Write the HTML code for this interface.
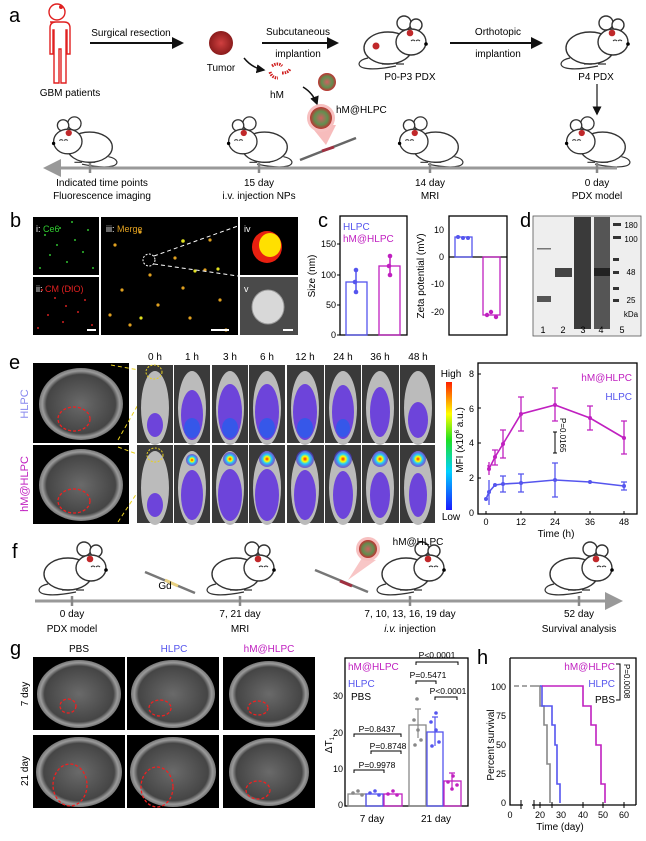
<!DOCTYPE html>
<html><head><meta charset="utf-8"><style>
html,body{margin:0;padding:0;background:#fff}
svg{display:block}
text{font-family:"Liberation Sans",Arial,sans-serif}
</style></head><body>
<svg width="646" height="841" viewBox="0 0 646 841" xmlns="http://www.w3.org/2000/svg">
<defs>
<symbol id="mouse" viewBox="0 0 80 56" overflow="visible">
<path d="M12 44 C2 46 0 52 8 54 C16 56 30 54 40 52" fill="none" stroke="#333" stroke-width="1.2"/>
<ellipse cx="32" cy="34" rx="24" ry="16" fill="#fff" stroke="#333" stroke-width="1.4"/>
<circle cx="48" cy="9" r="7" fill="#fff" stroke="#333" stroke-width="1.4"/>
<circle cx="60" cy="11" r="6" fill="#fff" stroke="#333" stroke-width="1.4"/>
<ellipse cx="55" cy="28" rx="15" ry="13" fill="#fff" stroke="#333" stroke-width="1.4"/>
<circle cx="70" cy="30" r="1.8" fill="#000"/>
<path d="M55 27 q2 -2 4 0 M60 27 q2 -2 4 0" fill="none" stroke="#333" stroke-width="1"/>
<path d="M26 50 h8 M40 50 h8" stroke="#333" stroke-width="1.2"/>
<circle cx="54" cy="19" r="3.3" fill="#c0282a"/>
</symbol>
<linearGradient id="cb" x1="0" y1="1" x2="0" y2="0">
<stop offset="0" stop-color="#1a1aff"/><stop offset="0.3" stop-color="#00d0ff"/><stop offset="0.55" stop-color="#20e020"/><stop offset="0.75" stop-color="#ffff00"/><stop offset="1" stop-color="#ff2000"/>
</linearGradient>
<radialGradient id="tum"><stop offset="0" stop-color="#d04040"/><stop offset="1" stop-color="#8a1c1c"/></radialGradient>
<radialGradient id="np"><stop offset="0" stop-color="#d06060"/><stop offset="0.6" stop-color="#609050"/><stop offset="1" stop-color="#c03030"/></radialGradient>
<radialGradient id="mri"><stop offset="0" stop-color="#6a6a6a"/><stop offset="0.82" stop-color="#454545"/><stop offset="0.92" stop-color="#9a9a9a"/><stop offset="1" stop-color="#777"/></radialGradient>
<radialGradient id="hot"><stop offset="0" stop-color="#ff2000"/><stop offset="0.3" stop-color="#ffff00"/><stop offset="0.55" stop-color="#20d0ff"/><stop offset="1" stop-color="#5020d0" stop-opacity="0.6"/></radialGradient>
<marker id="ah" markerWidth="6" markerHeight="6" refX="5" refY="3" orient="auto"><path d="M0 0 L6 3 L0 6z" fill="#111"/></marker>
<marker id="ahg" markerWidth="6" markerHeight="6" refX="5" refY="3" orient="auto"><path d="M0 0 L6 3 L0 6z" fill="#999"/></marker>
</defs>

<!-- ===== a ===== -->
<text x="9" y="22" font-size="20">a</text>
<g fill="none" stroke="#e02020" stroke-width="1.4">
<circle cx="57" cy="12" r="8"/>
<path d="M50 22 h14 q6 0 6 6 v26 h-3 v-24 h-1 v53 h-5 v-34 h-2 v34 h-5 v-53 h-1 v24 h-3 v-26 q0 -6 6 -6z"/>
</g>
<circle cx="61" cy="7" r="2" fill="#e02020"/>
<text x="70" y="96" font-size="10" text-anchor="middle">GBM patients</text>
<text x="131" y="36" font-size="10" text-anchor="middle">Surgical resection</text>
<line x1="90" y1="43" x2="182" y2="43" stroke="#111" stroke-width="2" marker-end="url(#ah)"/>
<circle cx="221" cy="43" r="12" fill="url(#tum)"/>
<text x="221" y="71" font-size="10" text-anchor="middle">Tumor</text>
<path d="M244 58 q8 10 20 12" fill="none" stroke="#111" stroke-width="1.5" marker-end="url(#ah)"/>
<g stroke="#d02020" stroke-width="3" fill="none" stroke-dasharray="1.5 1"><path d="M272 66 q6 -4 10 0"/><path d="M270 72 q2 6 8 6"/><path d="M282 73 q6 0 8 -4"/></g>
<text x="277" y="98" font-size="10" text-anchor="middle">hM</text>
<circle cx="327" cy="82" r="9" fill="url(#np)"/>
<path d="M303 87 q10 6 14 17" fill="none" stroke="#111" stroke-width="1.5" marker-end="url(#ah)"/>
<text x="298" y="35" font-size="10" text-anchor="middle">Subcutaneous</text>
<line x1="262" y1="43" x2="337" y2="43" stroke="#111" stroke-width="2" marker-end="url(#ah)"/>
<text x="298" y="57" font-size="10" text-anchor="middle">implantion</text>
<use href="#mouse" x="356" y="14" width="80" height="56"/>
<circle cx="376" cy="46" r="3.5" fill="#c0282a"/>
<text x="410" y="80" font-size="10" text-anchor="middle">P0-P3 PDX</text>
<text x="498" y="35" font-size="10" text-anchor="middle">Orthotopic</text>
<line x1="450" y1="43" x2="541" y2="43" stroke="#111" stroke-width="2" marker-end="url(#ah)"/>
<text x="498" y="57" font-size="10" text-anchor="middle">implantion</text>
<use href="#mouse" x="558" y="14" width="80" height="56"/>
<text x="596" y="80" font-size="10" text-anchor="middle">P4 PDX</text>
<line x1="597" y1="84" x2="597" y2="114" stroke="#444" stroke-width="1.5" marker-end="url(#ah)"/>
<text x="336" y="113" font-size="10">hM@HLPC</text>
<path d="M310 125 L326 145 L336 125z" fill="#f4a0a0" opacity="0.7"/>
<circle cx="321" cy="118" r="14" fill="#f7c0c0"/><circle cx="321" cy="118" r="11" fill="url(#np)"/>
<line x1="300" y1="160" x2="356" y2="138" stroke="#666" stroke-width="2.5"/>
<line x1="322" y1="151" x2="334" y2="147" stroke="#a03040" stroke-width="3"/>
<g transform="translate(120,115) scale(-1,1)"><use href="#mouse" x="0" y="0" width="76" height="53"/></g>
<g transform="translate(295,115) scale(-1,1)"><use href="#mouse" x="0" y="0" width="76" height="53"/></g>
<g transform="translate(466,115) scale(-1,1)"><use href="#mouse" x="0" y="0" width="76" height="53"/></g>
<g transform="translate(633,115) scale(-1,1)"><use href="#mouse" x="0" y="0" width="76" height="53"/></g>
<line x1="617" y1="168" x2="46" y2="168" stroke="#999" stroke-width="3" marker-end="url(#ahg)"/>
<g stroke="#888" stroke-width="2.5"><line x1="90" y1="163" x2="90" y2="173"/><line x1="259" y1="163" x2="259" y2="173"/><line x1="430" y1="163" x2="430" y2="173"/><line x1="597" y1="163" x2="597" y2="173"/></g>
<g font-size="10" text-anchor="middle">
<text x="102" y="186">Indicated time points</text><text x="102" y="199">Fluorescence imaging</text>
<text x="259" y="186">15 day</text><text x="259" y="199">i.v. injection NPs</text>
<text x="430" y="186">14 day</text><text x="430" y="199">MRI</text>
<text x="597" y="186">0 day</text><text x="597" y="199">PDX model</text>
</g>

<!-- ===== b ===== -->
<text x="10" y="227" font-size="20">b</text>
<rect x="33" y="217" width="66" height="58" fill="#000"/>
<rect x="33" y="277" width="66" height="58" fill="#000"/>
<rect x="101" y="217" width="137" height="118" fill="#000"/>
<rect x="240" y="217" width="58" height="58" fill="#000"/>
<rect x="240" y="277" width="58" height="58" fill="#4a4a4a"/>
<g fill="#30c030"><circle cx="45" cy="235" r="1"/><circle cx="60" cy="228" r="1"/><circle cx="75" cy="240" r="1"/><circle cx="88" cy="230" r="1"/><circle cx="50" cy="255" r="1"/><circle cx="67" cy="262" r="1"/><circle cx="83" cy="252" r="1"/><circle cx="93" cy="268" r="1"/><circle cx="40" cy="268" r="1"/><circle cx="57" cy="245" r="1"/><circle cx="72" cy="222" r="1"/></g>
<g fill="#d02020"><circle cx="42" cy="290" r="1"/><circle cx="55" cy="298" r="1"/><circle cx="70" cy="288" r="1"/><circle cx="85" cy="300" r="1"/><circle cx="48" cy="315" r="1"/><circle cx="63" cy="322" r="1"/><circle cx="78" cy="312" r="1"/><circle cx="92" cy="325" r="1"/><circle cx="38" cy="328" r="1"/><circle cx="66" cy="306" r="1"/></g>
<g fill="#e0a020"><circle cx="115" cy="245" r="1.6"/><circle cx="140" cy="232" r="1.6"/><circle cx="175" cy="258" r="1.6"/><circle cx="205" cy="270" r="1.6"/><circle cx="122" cy="290" r="1.6"/><circle cx="158" cy="305" r="1.6"/><circle cx="190" cy="318" r="1.6"/><circle cx="220" cy="300" r="1.6"/><circle cx="130" cy="325" r="1.6"/><circle cx="210" cy="240" r="1.6"/><circle cx="150" cy="275" r="1.6"/><circle cx="226" cy="330" r="1.6"/><circle cx="183" cy="288" r="1.6"/><circle cx="110" cy="315" r="1.6"/></g>
<g fill="#e0e020"><circle cx="183" cy="241" r="1.8"/><circle cx="195" cy="271" r="1.6"/><circle cx="218" cy="269" r="1.6"/><circle cx="141" cy="318" r="1.6"/></g>
<circle cx="149" cy="260" r="6" fill="none" stroke="#fff" stroke-dasharray="2 1.5"/>
<path d="M154 256 L238 226 M154 264 L238 276" stroke="#fff" stroke-dasharray="4 3"/>
<ellipse cx="267" cy="247" rx="15" ry="16" fill="#e82010"/><ellipse cx="270" cy="245" rx="11" ry="12" fill="#ffe000"/>
<ellipse cx="268" cy="307" rx="16" ry="17" fill="#d8d8d8" stroke="#999"/>
<line x1="87" y1="330" x2="96" y2="330" stroke="#fff" stroke-width="2"/><line x1="211" y1="330" x2="229" y2="330" stroke="#fff" stroke-width="2"/><line x1="283" y1="330" x2="293" y2="330" stroke="#fff" stroke-width="2"/>
<text x="36" y="232" font-size="9" fill="#fff">i: <tspan fill="#30d030">Ce6</tspan></text>
<text x="36" y="292" font-size="9" fill="#fff">ii: <tspan fill="#e02020">CM (DIO)</tspan></text>
<text x="106" y="232" font-size="9" fill="#fff">iii: <tspan fill="#e0a020">Merge</tspan></text>
<text x="244" y="232" font-size="9" fill="#fff">iv</text><text x="244" y="292" font-size="9" fill="#fff">v</text>

<!-- ===== c ===== -->
<text x="318" y="227" font-size="20">c</text>
<rect x="340" y="216" width="67" height="119" fill="none" stroke="#000" stroke-width="1.3"/>
<g font-size="9" text-anchor="end"><text x="336" y="338">0</text><text x="336" y="308">50</text><text x="336" y="278">100</text><text x="336" y="247">150</text></g>
<g stroke="#000"><line x1="337" y1="335" x2="340" y2="335"/><line x1="337" y1="305" x2="340" y2="305"/><line x1="337" y1="275" x2="340" y2="275"/><line x1="337" y1="244" x2="340" y2="244"/></g>
<text transform="translate(315,276) rotate(-90)" font-size="10" text-anchor="middle">Size (nm)</text>
<rect x="346" y="282" width="21" height="53" fill="none" stroke="#5555ee" stroke-width="1.3"/>
<rect x="379" y="266" width="21" height="69" fill="none" stroke="#c020c0" stroke-width="1.3"/>
<line x1="356" y1="270" x2="356" y2="293" stroke="#5555ee" stroke-width="1.5"/><circle cx="356" cy="270" r="2.3" fill="#5555ee"/><circle cx="355" cy="282" r="2.3" fill="#5555ee"/><circle cx="356" cy="292" r="2.3" fill="#5555ee"/>
<line x1="390" y1="255" x2="390" y2="276" stroke="#c020c0" stroke-width="1.5"/><circle cx="390" cy="256" r="2.3" fill="#c020c0"/><circle cx="389" cy="266" r="2.3" fill="#c020c0"/><circle cx="390" cy="275" r="2.3" fill="#c020c0"/>
<text x="343" y="230" font-size="10" fill="#5555ee">HLPC</text>
<text x="343" y="242" font-size="10" fill="#c020c0">hM@HLPC</text>
<rect x="449" y="216" width="58" height="119" fill="none" stroke="#000" stroke-width="1.3"/>
<line x1="449" y1="257" x2="507" y2="257" stroke="#000" stroke-width="1.2"/>
<g font-size="9" text-anchor="end"><text x="444" y="233">10</text><text x="444" y="260">0</text><text x="444" y="287">-10</text><text x="444" y="315">-20</text></g>
<text transform="translate(424,276) rotate(-90)" font-size="10" text-anchor="middle">Zeta potential (mV)</text>
<rect x="455" y="237" width="17" height="20" fill="none" stroke="#5555ee" stroke-width="1.3"/>
<circle cx="458" cy="237" r="2" fill="#5555ee"/><circle cx="463" cy="238" r="2" fill="#5555ee"/><circle cx="468" cy="238" r="2" fill="#5555ee"/>
<rect x="483" y="257" width="17" height="58" fill="none" stroke="#c020c0" stroke-width="1.3"/>
<circle cx="487" cy="315" r="2.2" fill="#c020c0"/><circle cx="491" cy="312" r="2.2" fill="#c020c0"/><circle cx="496" cy="317" r="2.2" fill="#c020c0"/>

<!-- ===== d ===== -->
<text x="520" y="227" font-size="20">d</text>
<rect x="533" y="216" width="108" height="120" fill="#eee" stroke="#555" stroke-width="0.8"/>
<rect x="537" y="296" width="14" height="6" fill="#555"/><rect x="537" y="248" width="14" height="1.5" fill="#777"/>
<rect x="555" y="268" width="17" height="9" fill="#444"/>
<rect x="574" y="217" width="17" height="112" fill="#3a3a3a"/>
<rect x="594" y="217" width="16" height="112" fill="#555"/>
<rect x="594" y="268" width="16" height="8" fill="#222"/>
<g fill="#333"><rect x="613" y="223" width="8" height="3"/><rect x="613" y="236" width="8" height="3"/><rect x="613" y="258" width="6" height="3"/><rect x="613" y="271" width="6" height="3"/><rect x="613" y="287" width="6" height="3"/><rect x="613" y="299" width="6" height="3"/></g>
<g font-size="8" text-anchor="middle"><text x="631" y="228">180</text><text x="631" y="242">100</text><text x="631" y="275">48</text><text x="631" y="303">25</text><text x="631" y="317">kDa</text></g>
<g font-size="9" text-anchor="middle"><text x="543" y="333">1</text><text x="563" y="333">2</text><text x="583" y="333">3</text><text x="601" y="333">4</text><text x="622" y="333">5</text></g>

<!-- ===== e ===== -->
<text x="9" y="369" font-size="20">e</text>
<rect x="33" y="363" width="96" height="80" fill="#000"/><rect x="33" y="445" width="96" height="79" fill="#000"/>
<ellipse cx="81" cy="404" rx="42" ry="36" fill="url(#mri)"/><ellipse cx="81" cy="485" rx="42" ry="36" fill="url(#mri)"/>
<ellipse cx="74" cy="419" rx="16" ry="12" fill="none" stroke="#f02020" stroke-dasharray="3 2" stroke-width="1.3"/>
<ellipse cx="74" cy="501" rx="16" ry="12" fill="none" stroke="#f02020" stroke-dasharray="3 2" stroke-width="1.3"/>
<text transform="translate(28,404) rotate(-90)" font-size="11" fill="#8888ee" text-anchor="middle">HLPC</text>
<text transform="translate(28,484) rotate(-90)" font-size="11" fill="#c020c0" text-anchor="middle">hM@HLPC</text>
<path d="M111 365 L150 372 M118 440 L152 380 M118 447 L153 460 M118 522 L152 470" stroke="#e8d020" stroke-dasharray="4 3"/>
<g font-size="10" text-anchor="middle"><text x="155" y="360">0 h</text><text x="192" y="360">1 h</text><text x="230" y="360">3 h</text><text x="267" y="360">6 h</text><text x="305" y="360">12 h</text><text x="343" y="360">24 h</text><text x="380" y="360">36 h</text><text x="418" y="360">48 h</text></g>
<g>
<rect x="137" y="365" width="36" height="78" fill="#3a3a3a"/><rect x="174" y="365" width="36" height="78" fill="#3a3a3a"/><rect x="212" y="365" width="36" height="78" fill="#3a3a3a"/><rect x="249" y="365" width="36" height="78" fill="#3a3a3a"/><rect x="287" y="365" width="37" height="78" fill="#3a3a3a"/><rect x="325" y="365" width="36" height="78" fill="#3a3a3a"/><rect x="362" y="365" width="37" height="78" fill="#3a3a3a"/><rect x="400" y="365" width="35" height="78" fill="#3a3a3a"/>
<rect x="137" y="445" width="36" height="78" fill="#3a3a3a"/><rect x="174" y="445" width="36" height="78" fill="#3a3a3a"/><rect x="212" y="445" width="36" height="78" fill="#3a3a3a"/><rect x="249" y="445" width="36" height="78" fill="#3a3a3a"/><rect x="287" y="445" width="37" height="78" fill="#3a3a3a"/><rect x="325" y="445" width="36" height="78" fill="#3a3a3a"/><rect x="362" y="445" width="37" height="78" fill="#3a3a3a"/><rect x="400" y="445" width="35" height="78" fill="#3a3a3a"/>
</g>
<g fill="#bbb">
<ellipse cx="155" cy="408" rx="14" ry="37"/><ellipse cx="192" cy="408" rx="14" ry="37"/><ellipse cx="230" cy="408" rx="14" ry="37"/><ellipse cx="267" cy="408" rx="14" ry="37"/><ellipse cx="305" cy="408" rx="14" ry="37"/><ellipse cx="343" cy="408" rx="14" ry="37"/><ellipse cx="380" cy="408" rx="14" ry="37"/><ellipse cx="418" cy="408" rx="14" ry="37"/>
<ellipse cx="155" cy="488" rx="14" ry="37"/><ellipse cx="192" cy="488" rx="14" ry="37"/><ellipse cx="230" cy="488" rx="14" ry="37"/><ellipse cx="267" cy="488" rx="14" ry="37"/><ellipse cx="305" cy="488" rx="14" ry="37"/><ellipse cx="343" cy="488" rx="14" ry="37"/><ellipse cx="380" cy="488" rx="14" ry="37"/><ellipse cx="418" cy="488" rx="14" ry="37"/>
</g>
<g fill="#6030e0" opacity="0.85">
<ellipse cx="155" cy="425" rx="8" ry="12"/><ellipse cx="192" cy="415" rx="11" ry="25"/><ellipse cx="230" cy="412" rx="12" ry="28"/><ellipse cx="267" cy="412" rx="12" ry="28"/><ellipse cx="305" cy="412" rx="12" ry="28"/><ellipse cx="343" cy="412" rx="11" ry="27"/><ellipse cx="380" cy="412" rx="10" ry="25"/><ellipse cx="418" cy="420" rx="10" ry="18"/>
<ellipse cx="155" cy="505" rx="8" ry="12"/><ellipse cx="192" cy="495" rx="11" ry="25"/><ellipse cx="230" cy="495" rx="12" ry="26"/><ellipse cx="267" cy="495" rx="12" ry="26"/><ellipse cx="305" cy="495" rx="11" ry="25"/><ellipse cx="343" cy="495" rx="10" ry="24"/><ellipse cx="380" cy="495" rx="10" ry="23"/><ellipse cx="418" cy="495" rx="9" ry="22"/>
</g>
<g fill="#2060f0" opacity="0.7"><ellipse cx="192" cy="428" rx="8" ry="10"/><ellipse cx="230" cy="428" rx="8" ry="10"/><ellipse cx="267" cy="428" rx="8" ry="10"/><ellipse cx="305" cy="428" rx="8" ry="10"/><ellipse cx="343" cy="428" rx="7" ry="9"/></g>
<circle cx="192" cy="460" r="6" fill="url(#hot)"/><circle cx="230" cy="459" r="7" fill="url(#hot)"/><circle cx="267" cy="459" r="8" fill="url(#hot)"/><circle cx="305" cy="459" r="9" fill="url(#hot)"/><circle cx="343" cy="459" r="9" fill="url(#hot)"/><circle cx="380" cy="459" r="8" fill="url(#hot)"/><circle cx="418" cy="459" r="8" fill="url(#hot)"/>
<ellipse cx="154" cy="372" rx="8" ry="7" fill="none" stroke="#e8d020" stroke-dasharray="2 1.5"/><ellipse cx="155" cy="455" rx="8" ry="7" fill="none" stroke="#e8d020" stroke-dasharray="2 1.5"/>
<rect x="446" y="382" width="6" height="128" fill="url(#cb)"/>
<text x="451" y="377" font-size="10" text-anchor="middle">High</text><text x="451" y="520" font-size="10" text-anchor="middle">Low</text>
<!-- MFI plot -->
<rect x="478" y="363" width="159" height="151" fill="none" stroke="#000" stroke-width="1.3"/>
<g font-size="9" text-anchor="end"><text x="474" y="516">0</text><text x="474" y="481">2</text><text x="474" y="446">4</text><text x="474" y="412">6</text><text x="474" y="377">8</text></g>
<g stroke="#000"><line x1="478" y1="478" x2="481" y2="478"/><line x1="478" y1="443" x2="481" y2="443"/><line x1="478" y1="408" x2="481" y2="408"/><line x1="478" y1="374" x2="481" y2="374"/><line x1="486" y1="514" x2="486" y2="511"/><line x1="521" y1="514" x2="521" y2="511"/><line x1="555" y1="514" x2="555" y2="511"/><line x1="590" y1="514" x2="590" y2="511"/><line x1="624" y1="514" x2="624" y2="511"/></g>
<g font-size="9" text-anchor="middle"><text x="486" y="525">0</text><text x="521" y="525">12</text><text x="555" y="525">24</text><text x="590" y="525">36</text><text x="624" y="525">48</text></g>
<text x="556" y="537" font-size="10" text-anchor="middle">Time (h)</text>
<text transform="translate(463,440) rotate(-90)" font-size="10" text-anchor="middle">MFI (x10<tspan font-size="6" dy="-4">6</tspan><tspan dy="4"> a.u.)</tspan></text>
<polyline points="488,465 489,469 495,457 503,444 521,414 555,405 590,418 624,438" fill="none" stroke="#c020c0" stroke-width="1.6"/>
<g stroke="#c020c0" stroke-width="1.3"><line x1="489" y1="462" x2="489" y2="475"/><line x1="495" y1="450" x2="495" y2="465"/><line x1="503" y1="430" x2="503" y2="458"/><line x1="521" y1="397" x2="521" y2="431"/><line x1="555" y1="388" x2="555" y2="421"/><line x1="590" y1="406" x2="590" y2="430"/><line x1="624" y1="421" x2="624" y2="454"/>
<path d="M500 430h6M500 458h6M518 397h6M518 431h6M552 388h6M552 421h6M587 406h6M587 430h6M621 421h6M621 454h6M492 450h6M492 465h6"/></g>
<g fill="#c020c0"><circle cx="489" cy="469" r="2"/><circle cx="495" cy="457" r="2"/><circle cx="503" cy="444" r="2"/><circle cx="521" cy="414" r="2"/><circle cx="555" cy="405" r="2"/><circle cx="590" cy="418" r="2"/><circle cx="624" cy="438" r="2"/></g>
<polyline points="486,499 489,492 495,485 503,484 521,483 555,480 590,482 624,486" fill="none" stroke="#5555ee" stroke-width="1.6"/>
<g stroke="#5555ee" stroke-width="1.3"><line x1="489" y1="480" x2="489" y2="505"/><line x1="503" y1="476" x2="503" y2="492"/><line x1="521" y1="474" x2="521" y2="492"/><line x1="555" y1="463" x2="555" y2="497"/><line x1="624" y1="482" x2="624" y2="490"/>
<path d="M500 476h6M500 492h6M518 474h6M518 492h6M552 463h6M552 497h6M621 482h6M621 490h6"/></g>
<g fill="#5555ee"><circle cx="486" cy="499" r="2"/><circle cx="489" cy="492" r="2"/><circle cx="495" cy="485" r="2"/><circle cx="503" cy="484" r="2"/><circle cx="521" cy="483" r="2"/><circle cx="555" cy="480" r="2"/><circle cx="590" cy="482" r="2"/><circle cx="624" cy="486" r="2"/></g>
<text x="632" y="381" font-size="10" fill="#c020c0" text-anchor="end">hM@HLPC</text>
<text x="632" y="400" font-size="10" fill="#5555ee" text-anchor="end">HLPC</text>
<line x1="555" y1="432" x2="555" y2="453" stroke="#000"/><line x1="553" y1="432" x2="557" y2="432" stroke="#000"/><line x1="553" y1="453" x2="557" y2="453" stroke="#000"/>
<text transform="translate(560,418) rotate(90)" font-size="8">P=0.0165</text>

<!-- ===== f ===== -->
<text x="12" y="558" font-size="20">f</text>
<use href="#mouse" x="36" y="540" width="80" height="56"/>
<use href="#mouse" x="204" y="540" width="80" height="56"/>
<use href="#mouse" x="374" y="540" width="80" height="56"/>
<use href="#mouse" x="542" y="540" width="80" height="56"/>
<line x1="145" y1="572" x2="195" y2="593" stroke="#777" stroke-width="2.5"/><line x1="165" y1="580" x2="178" y2="586" stroke="#e8d080" stroke-width="3"/>
<text x="165" y="589" font-size="10" text-anchor="middle">Gd</text>
<line x1="315" y1="570" x2="368" y2="592" stroke="#777" stroke-width="2.5"/><line x1="340" y1="581" x2="352" y2="586" stroke="#a03040" stroke-width="3"/>
<path d="M348 580 L362 558 L376 560z" fill="#f4a0a0" opacity="0.6"/>
<circle cx="368" cy="549" r="12" fill="#f7c0c0"/><circle cx="368" cy="549" r="9" fill="url(#np)"/>
<text x="418" y="545" font-size="10" text-anchor="middle">hM@HLPC</text>
<line x1="35" y1="601" x2="620" y2="601" stroke="#999" stroke-width="3" marker-end="url(#ahg)"/>
<g stroke="#888" stroke-width="2.5"><line x1="72" y1="596" x2="72" y2="606"/><line x1="240" y1="596" x2="240" y2="606"/><line x1="410" y1="596" x2="410" y2="606"/><line x1="579" y1="596" x2="579" y2="606"/></g>
<g font-size="10" text-anchor="middle">
<text x="72" y="617">0 day</text><text x="72" y="632">PDX model</text>
<text x="240" y="617">7, 21 day</text><text x="240" y="632">MRI</text>
<text x="410" y="617">7, 10, 13, 16, 19 day</text><text x="410" y="632"><tspan font-style="italic">i.v.</tspan> injection</text>
<text x="579" y="617">52 day</text><text x="579" y="632">Survival analysis</text>
</g>

<!-- ===== g ===== -->
<text x="10" y="655" font-size="20">g</text>
<g font-size="10" text-anchor="middle"><text x="79" y="652">PBS</text><text x="174" y="652" fill="#5555ee">HLPC</text><text x="269" y="652" fill="#c020c0">hM@HLPC</text></g>
<text transform="translate(28,694) rotate(-90)" font-size="10" text-anchor="middle">7 day</text>
<text transform="translate(28,771) rotate(-90)" font-size="10" text-anchor="middle">21 day</text>
<g fill="#000"><rect x="33" y="657" width="92" height="73"/><rect x="127" y="657" width="92" height="73"/><rect x="223" y="657" width="92" height="73"/><rect x="33" y="735" width="92" height="73"/><rect x="127" y="735" width="92" height="73"/><rect x="223" y="735" width="92" height="73"/></g>
<g fill="url(#mri)"><ellipse cx="79" cy="694" rx="42" ry="34"/><ellipse cx="173" cy="694" rx="42" ry="34"/><ellipse cx="269" cy="694" rx="40" ry="33"/><ellipse cx="79" cy="772" rx="43" ry="35"/><ellipse cx="173" cy="772" rx="43" ry="35"/><ellipse cx="269" cy="772" rx="40" ry="34"/></g>
<g fill="none" stroke="#f02020" stroke-dasharray="3 2" stroke-width="1.3">
<ellipse cx="68" cy="706" rx="8" ry="7"/><ellipse cx="160" cy="708" rx="11" ry="8"/><ellipse cx="258" cy="708" rx="10" ry="7"/>
<ellipse cx="70" cy="785" rx="17" ry="21"/><ellipse cx="157" cy="787" rx="16" ry="20"/><ellipse cx="258" cy="790" rx="12" ry="9"/>
</g>
<!-- bar chart -->
<rect x="345" y="658" width="123" height="148" fill="none" stroke="#000" stroke-width="1.3"/>
<g font-size="9" text-anchor="end"><text x="343" y="808">0</text><text x="343" y="772">10</text><text x="343" y="736">20</text><text x="343" y="699">30</text></g>
<text transform="translate(332,745) rotate(-90)" font-size="10" text-anchor="middle">ΔT<tspan font-size="6" dy="2">1</tspan></text>
<rect x="348" y="794" width="18" height="12" fill="none" stroke="#888" stroke-width="1.3"/>
<rect x="366" y="794" width="17" height="12" fill="none" stroke="#5555ee" stroke-width="1.3"/>
<rect x="384" y="794" width="18" height="12" fill="none" stroke="#c020c0" stroke-width="1.3"/>
<rect x="409" y="725" width="17" height="81" fill="none" stroke="#888" stroke-width="1.3"/>
<rect x="427" y="732" width="16" height="74" fill="none" stroke="#5555ee" stroke-width="1.3"/>
<rect x="444" y="781" width="17" height="25" fill="none" stroke="#c020c0" stroke-width="1.3"/>
<g fill="#888"><circle cx="353" cy="793" r="1.8"/><circle cx="358" cy="791" r="1.8"/><circle cx="362" cy="795" r="1.8"/><circle cx="414" cy="720" r="1.8"/><circle cx="418" cy="730" r="1.8"/><circle cx="421" cy="740" r="1.8"/><circle cx="415" cy="745" r="1.8"/><circle cx="417" cy="699" r="1.8"/></g>
<g fill="#5555ee"><circle cx="370" cy="793" r="1.8"/><circle cx="375" cy="791" r="1.8"/><circle cx="379" cy="795" r="1.8"/><circle cx="431" cy="722" r="1.8"/><circle cx="436" cy="730" r="1.8"/><circle cx="439" cy="742" r="1.8"/><circle cx="432" cy="746" r="1.8"/><circle cx="436" cy="713" r="1.8"/></g>
<g fill="#c020c0"><circle cx="388" cy="794" r="1.8"/><circle cx="393" cy="791" r="1.8"/><circle cx="397" cy="795" r="1.8"/><circle cx="448" cy="782" r="1.8"/><circle cx="453" cy="776" r="1.8"/><circle cx="457" cy="785" r="1.8"/><circle cx="452" cy="789" r="1.8"/></g>
<g stroke="#888" stroke-width="1.2"><path d="M418 709v29M415 709h6"/></g>
<g stroke="#5555ee" stroke-width="1.2"><path d="M435 717v29M432 717h6"/></g>
<g stroke="#c020c0" stroke-width="1.2"><path d="M452 773v16M449 773h6"/></g>
<g fill="none" stroke="#000" stroke-width="1"><path d="M354 773v-3h30v3"/><path d="M371 754v-3h30v3"/><path d="M354 737v-3h47v3"/><path d="M416 665v-3h42v3"/><path d="M416 684v-3h20v3"/><path d="M435 700v-3h22v3"/></g>
<g font-size="8.5" text-anchor="middle"><text x="377" y="768">P=0.9978</text><text x="388" y="749">P=0.8748</text><text x="377" y="732">P=0.8437</text><text x="437" y="658" >P&lt;0.0001</text><text x="428" y="678">P=0.5471</text><text x="448" y="694">P&lt;0.0001</text></g>
<text x="348" y="670" font-size="10" fill="#c020c0">hM@HLPC</text>
<text x="348" y="687" font-size="10" fill="#5555ee">HLPC</text>
<text x="351" y="700" font-size="10">PBS</text>
<g font-size="10" text-anchor="middle"><text x="372" y="822">7 day</text><text x="436" y="822">21 day</text></g>

<!-- ===== h ===== -->
<text x="477" y="664" font-size="20">h</text>
<path d="M510 658 V805 H636" fill="none" stroke="#000" stroke-width="1.3"/>
<path d="M510 658 H636 V805" fill="none" stroke="#000" stroke-width="1.3"/>
<g font-size="9" text-anchor="end"><text x="506" y="806">0</text><text x="506" y="777">25</text><text x="506" y="748">50</text><text x="506" y="719">75</text><text x="506" y="690">100</text></g>
<text transform="translate(494,745) rotate(-90)" font-size="10" text-anchor="middle">Percent survival</text>
<g stroke="#000"><line x1="521" y1="800" x2="521" y2="809"/><line x1="534" y1="800" x2="534" y2="809"/><line x1="540" y1="802" x2="540" y2="808"/><line x1="552" y1="802" x2="552" y2="808"/><line x1="583" y1="802" x2="583" y2="808"/><line x1="603" y1="802" x2="603" y2="808"/><line x1="624" y1="802" x2="624" y2="808"/></g>
<rect x="523" y="801" width="9" height="8" fill="#fff"/>
<g font-size="9" text-anchor="middle"><text x="510" y="818">0</text><text x="540" y="818">20</text><text x="561" y="818">30</text><text x="583" y="818">40</text><text x="603" y="818">50</text><text x="624" y="818">60</text></g>
<text x="560" y="830" font-size="10" text-anchor="middle">Time (day)</text>
<line x1="514" y1="686" x2="534" y2="686" stroke="#888" stroke-width="1.5" stroke-dasharray="5 3"/>
<path d="M534 686 H540 V706 H544 V725 H547 V764 H550 V803" fill="none" stroke="#888" stroke-width="1.6"/>
<path d="M540 686 H542 V706 H552 V725 H555 V745 H557 V784 H560 V803" fill="none" stroke="#5555ee" stroke-width="1.6"/>
<path d="M542 686 H583 V706 H591 V725 H596 V745 H601 V784 H605 V803" fill="none" stroke="#c020c0" stroke-width="1.6"/>
<text x="615" y="670" font-size="10" fill="#c020c0" text-anchor="end">hM@HLPC</text>
<text x="615" y="687" font-size="10" fill="#5555ee" text-anchor="end">HLPC</text>
<text x="615" y="703" font-size="10" text-anchor="end">PBS</text>
<path d="M616 664 H620 V700 H616" fill="none" stroke="#000"/>
<text transform="translate(624,664) rotate(90)" font-size="8">P=0.0008</text>
</svg>
</body></html>
